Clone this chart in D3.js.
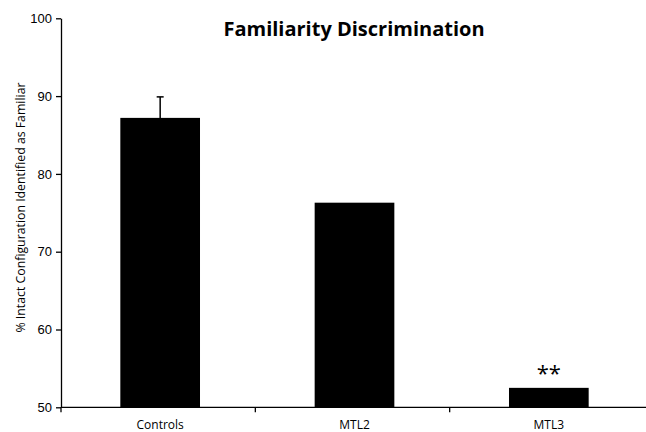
<!DOCTYPE html>
<html>
<head>
<meta charset="utf-8">
<script src="https://cdn.jsdelivr.net/npm/d3@7"></script>
<style>
body { margin: 0; background: #fff; }
svg { display: block; font-family: 'Open Sans', 'Noto Sans', sans-serif; }
</style>
</head>
<body>
<div id="chart"></div>
<script>
var categories = ['Controls', 'MTL2', 'MTL3']
var values = [87.2, 76.3, 52.5]
var errors = [2.7, 0, 0]
var marks = ['', '', '**']
var yTicks = [50, 60, 70, 80, 90, 100]

var width = 646, height = 432
var svg = d3.select('#chart').append('svg')
	.attr('width', width).attr('height', height)

var x = d3.scaleBand().domain(categories).range([63, 646]).paddingInner(0.59).paddingOuter(0.295)
var band = d3.scaleBand().domain(categories).range([63, 646])
var y = d3.scaleLinear().domain([50, 100]).range([407.3, 18.3])

// bars
svg.selectAll('rect.bar').data(categories).enter().append('rect')
	.attr('class', 'bar')
	.attr('x', function(d) { return x(d) })
	.attr('width', x.bandwidth())
	.attr('y', function(d, i) { return y(values[i]) })
	.attr('height', function(d, i) { return y(50) - y(values[i]) })
	.attr('fill', '#000')

// error bars
var eb = svg.selectAll('g.err').data(categories.filter(function(d, i) { return errors[i] > 0 })).enter().append('g')
eb.append('line')
	.attr('x1', function(d) { return x(d) + x.bandwidth() / 2 })
	.attr('x2', function(d) { return x(d) + x.bandwidth() / 2 })
	.attr('y1', function(d) { var i = categories.indexOf(d); return y(values[i]) })
	.attr('y2', function(d) { var i = categories.indexOf(d); return y(values[i] + errors[i]) })
	.attr('stroke', '#000').attr('stroke-width', 1.5)
eb.append('line')
	.attr('x1', function(d) { return x(d) + x.bandwidth() / 2 - 3.5 })
	.attr('x2', function(d) { return x(d) + x.bandwidth() / 2 + 3.5 })
	.attr('y1', function(d) { var i = categories.indexOf(d); return y(values[i] + errors[i]) })
	.attr('y2', function(d) { var i = categories.indexOf(d); return y(values[i] + errors[i]) })
	.attr('stroke', '#000').attr('stroke-width', 1.5)

// significance marks
svg.selectAll('text.mark').data(categories).enter().append('text')
	.attr('class', 'mark')
	.attr('x', function(d) { return x(d) + x.bandwidth() / 2 })
	.attr('y', function(d, i) { return y(values[i]) - 7 })
	.attr('text-anchor', 'middle')
	.style('font-size', '22px')
	.text(function(d, i) { return marks[i] })

// y axis
var yAxis = svg.append('g').attr('transform', 'translate(61,0)')
	.call(d3.axisLeft(y).tickValues(yTicks).tickSize(5).tickSizeOuter(0).tickPadding(4))
yAxis.select('.domain').attr('stroke-width', 1.3)
yAxis.selectAll('.tick line').attr('stroke-width', 1.3)
yAxis.selectAll('text').style('font-size', '13px').attr('fill', '#000')

// x axis line and boundary ticks
var xAxis = svg.append('g')
xAxis.append('line').attr('x1', 61).attr('x2', width).attr('y1', y(50)).attr('y2', y(50))
	.attr('stroke', '#000').attr('stroke-width', 1.3)
xAxis.selectAll('line.tk').data(categories).enter().append('line')
	.attr('class', 'tk')
	.attr('x1', function(d, i) { return i === 0 ? 61 : band(d) - 2 })
	.attr('x2', function(d, i) { return i === 0 ? 61 : band(d) - 2 })
	.attr('y1', y(50)).attr('y2', y(50) + 5)
	.attr('stroke', '#000').attr('stroke-width', 1.3)
xAxis.selectAll('text').data(categories).enter().append('text')
	.attr('x', function(d) { return x(d) + x.bandwidth() / 2 })
	.attr('y', 429)
	.attr('text-anchor', 'middle')
	.style('font-size', '12px')
	.text(function(d) { return d })

// title and axis label
svg.append('text').attr('x', 354).attr('y', 36)
	.attr('text-anchor', 'middle')
	.style('font-size', '20px').style('font-weight', 'bold')
	.text('Familiarity Discrimination')

svg.append('text')
	.attr('transform', 'translate(25,' + 207.5 + ') rotate(-90)')
	.attr('text-anchor', 'middle')
	.style('font-size', '12.3px')
	.text('% Intact Configuration Identified as Familiar')
</script>
</body>
</html>
